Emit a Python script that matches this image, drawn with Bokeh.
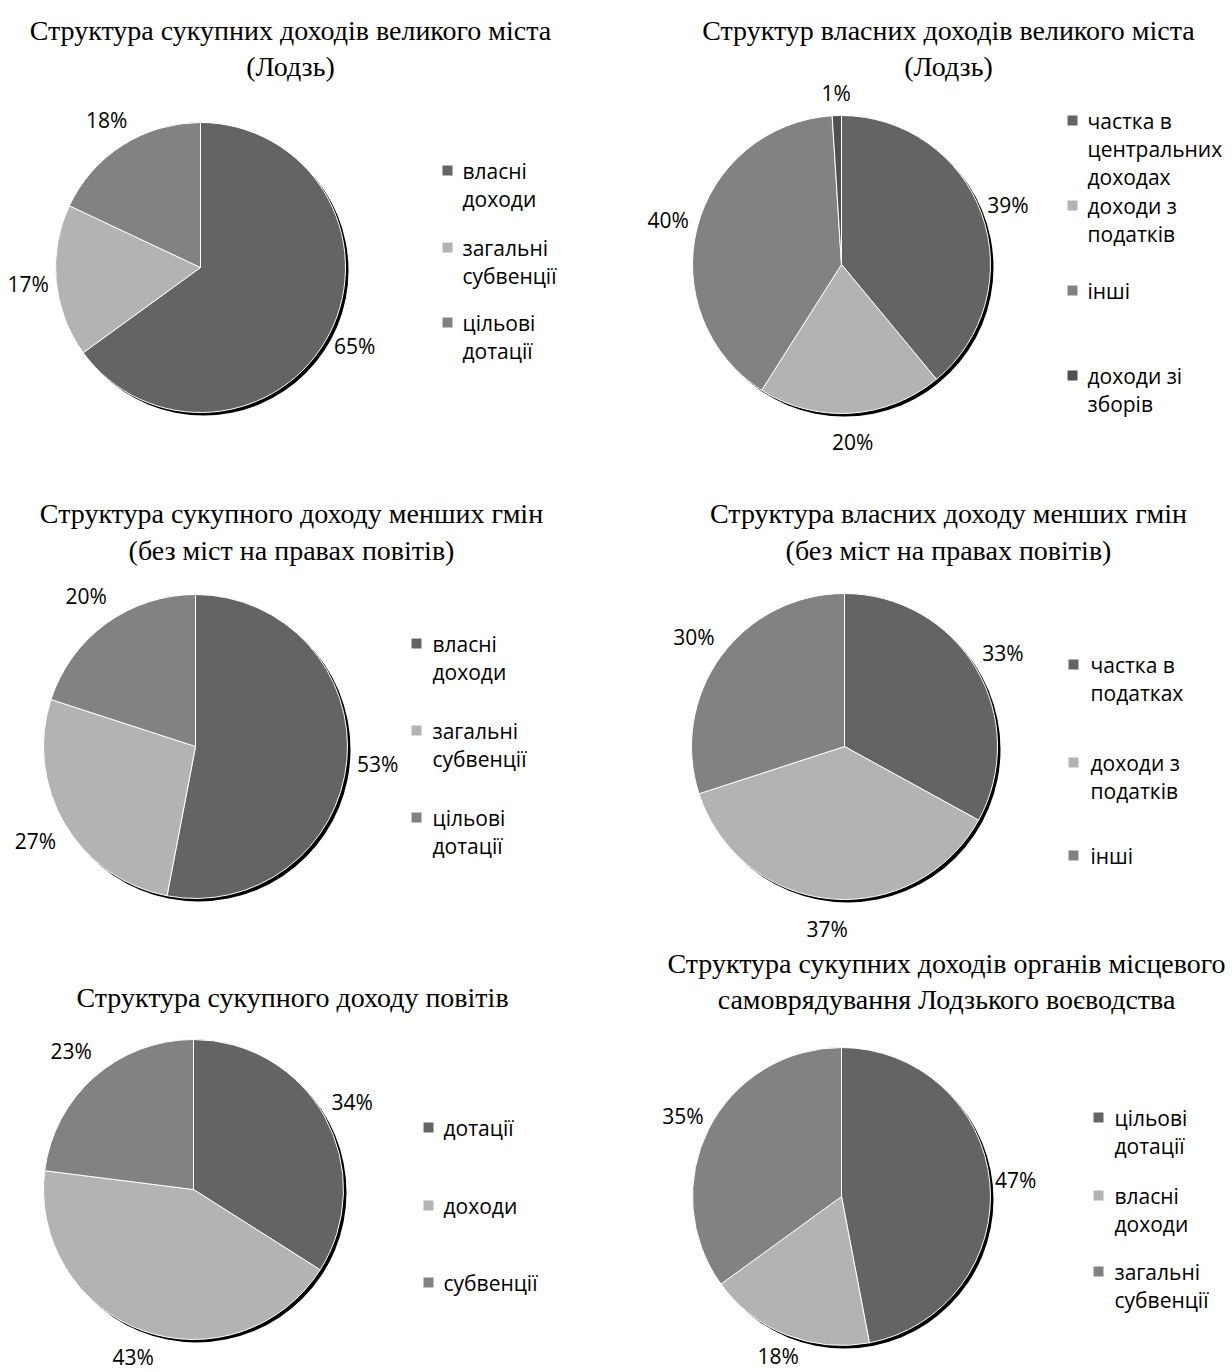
import math
from bokeh.plotting import figure
from bokeh.models import Range1d, ColumnDataSource
from bokeh.embed import file_html
from bokeh.resources import INLINE
from bokeh.core.properties import value

# ---------------- data ----------------
title_1 = ["Структура сукупних доходів великого міста", "(Лодзь)"]
categories_1 = ["власні\nдоходи", "загальні\nсубвенції", "цільові\nдотації"]
values_1 = [65, 17, 18]

title_2 = ["Структур власних доходів великого міста", "(Лодзь)"]
categories_2 = ["частка в\nцентральних\nдоходах", "доходи з\nподатків", "інші", "доходи зі\nзборів"]
values_2 = [39, 20, 40, 1]

title_3 = ["Структура сукупного доходу менших гмін", "(без міст на правах повітів)"]
categories_3 = ["власні\nдоходи", "загальні\nсубвенції", "цільові\nдотації"]
values_3 = [53, 27, 20]

title_4 = ["Структура власних доходу менших гмін", "(без міст на правах повітів)"]
categories_4 = ["частка в\nподатках", "доходи з\nподатків", "інші"]
values_4 = [33, 37, 30]

title_5 = ["Структура сукупного доходу повітів"]
categories_5 = ["дотації", "доходи", "субвенції"]
values_5 = [34, 43, 23]

title_6 = ["Структура сукупних доходів органів місцевого", "самоврядування Лодзького воєводства"]
categories_6 = ["цільові\nдотації", "власні\nдоходи", "загальні\nсубвенції"]
values_6 = [47, 18, 35]

# ---------------- styling / layout ----------------
SLICE_COLORS = ["#646464", "#b3b3b3", "#828282", "#505050"]
TITLE_FONT = value("Liberation Serif")
BODY_FONT = value("Open Sans")

panels = [
    dict(title=title_1, cats=categories_1, vals=values_1, cx=200, cy=267, r=145,
         off=[28, 28, 30], tx=290, ty=[30, 66], mx=447, lx=462, ly=[170, 247, 322]),
    dict(title=title_2, cats=categories_2, vals=values_2, cx=841, cy=264, r=149,
         off=[28, 29, 30, 23], tx=948, ty=[30, 66], mx=1072, lx=1087, ly=[120, 205, 290, 375]),
    dict(title=title_3, cats=categories_3, vals=values_3, cx=195, cy=746, r=152,
         off=[31, 34, 34], tx=291, ty=[513, 550], mx=416, lx=432, ly=[643, 730, 817]),
    dict(title=title_4, cats=categories_4, vals=values_4, cx=844, cy=746, r=153,
         off=[31, 30, 33], tx=948, ty=[513, 550], mx=1073, lx=1090, ly=[664, 762, 855]),
    dict(title=title_5, cats=categories_5, vals=values_5, cx=193, cy=1189, r=150,
         off=[31, 28, 35], tx=292, ty=[997], mx=428, lx=443, ly=[1127, 1205, 1282]),
    dict(title=title_6, cats=categories_6, vals=values_6, cx=841, cy=1196, r=149,
         off=[26, 23, 29], tx=946, ty=[963, 999], mx=1098, lx=1114, ly=[1117, 1195, 1271]),
]

LINE_H = 28

W, H = 1232, 1372
p = figure(width=W, height=H, output_backend="svg", toolbar_location=None,
           x_range=Range1d(0, W), y_range=Range1d(-H, 0),
           x_axis_location=None, y_axis_location=None, min_border=0,
           background_fill_color="white", border_fill_color="white")
p.grid.visible = False
p.outline_line_color = None

for pn in panels:
    cx, cy, r = pn["cx"], -pn["cy"], pn["r"]
    vals = pn["vals"]
    total = float(sum(vals))
    # shadow
    p.circle(x=[cx + 3], y=[cy - 3], radius=r, fill_color="black", line_color=None)
    starts, ends, mids = [], [], []
    acc = 0.0
    for v in vals:
        a0 = acc / total * 2 * math.pi
        acc += v
        a1 = acc / total * 2 * math.pi
        starts.append(math.pi / 2 - a0)
        ends.append(math.pi / 2 - a1)
        mids.append((a0 + a1) / 2)
    src = ColumnDataSource(dict(x=[cx] * len(vals), y=[cy] * len(vals),
                                start=starts, end=ends,
                                color=SLICE_COLORS[:len(vals)]))
    p.wedge(x="x", y="y", radius=r, start_angle="start", end_angle="end",
            direction="clock", fill_color="color", line_color="white",
            line_width=1, source=src)
    # percentage labels
    lx_, ly_, lt_ = [], [], []
    for v, m, o in zip(vals, mids, pn["off"]):
        d = r + o
        lx_.append(cx + d * math.sin(m))
        ly_.append(cy + d * math.cos(m))
        lt_.append(f"{v}%")
    p.text(x=lx_, y=ly_, text=lt_, text_align="center", text_baseline="middle",
           text_font=BODY_FONT, text_font_size="21px", text_color="black")
    # title
    p.text(x=[pn["tx"]] * len(pn["title"]), y=[-t for t in pn["ty"]], text=pn["title"],
           text_align="center", text_baseline="middle", text_font=TITLE_FONT,
           text_font_size="28px", text_color="black")
    # legend
    for i, (cat, y0) in enumerate(zip(pn["cats"], pn["ly"])):
        p.scatter(x=[pn["mx"]], y=[-y0], marker="square", size=10,
                  fill_color=SLICE_COLORS[i], line_color=None)
        lines = cat.split("\n")
        p.text(x=[pn["lx"]] * len(lines), y=[-(y0 + k * LINE_H) for k in range(len(lines))],
               text=lines, text_align="left", text_baseline="middle",
               text_font=BODY_FONT, text_font_size="21px", text_color="black")

open("out.html", "w").write(file_html(p, INLINE))
